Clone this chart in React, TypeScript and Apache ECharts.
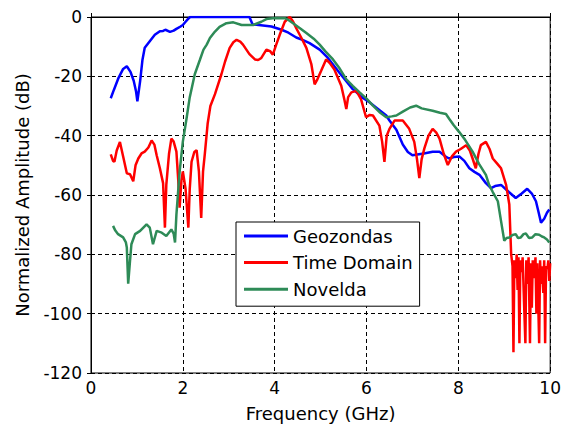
import React, { useEffect, useRef } from "react";
import * as echarts from "echarts";

const xTicks = [0, 2, 4, 6, 8, 10];
const yTicks = [-120, -100, -80, -60, -40, -20, 0];

const geoFreq = [0.43, 0.5, 0.6, 0.7, 0.78, 0.86, 0.93, 0.98, 1.01, 1.07, 1.12, 1.17, 1.28, 1.39, 1.5, 1.57, 1.62, 1.72, 1.8, 1.86, 1.95, 2.0, 2.06, 2.11, 2.16, 3.0, 3.45, 3.52, 3.7, 3.93, 4.15, 4.3, 4.47, 4.62, 4.76, 4.98, 5.16, 5.41, 5.7, 5.9, 6.07, 6.25, 6.43, 6.5, 6.65, 6.79, 6.9, 7.0, 7.25, 7.44, 7.59, 7.73, 7.8, 7.9, 8.02, 8.13, 8.24, 8.35, 8.46, 8.6, 8.71, 8.8, 8.93, 9.1, 9.25, 9.38, 9.5, 9.6, 9.69, 9.75, 9.8, 9.87, 9.93, 9.98];
const geoAmp = [-27.4, -24.5, -20.5, -17.5, -16.6, -18.5, -21.5, -25, -28.4, -21.6, -14.5, -10.4, -8.2, -6, -4.8, -4.7, -4.3, -5.0, -4.6, -4.0, -3.2, -2.7, -1.6, -0.7, 0, 0, 0, -2.5, -2.8, -3.2, -4.3, -5.3, -6.9, -7.8, -8.8, -11, -13.8, -18.8, -24.3, -27, -28.8, -31, -33.2, -34.9, -38, -43, -45.5, -46.6, -46, -45.4, -45.4, -47.1, -47.7, -47.2, -47, -48.5, -51, -52.2, -53.2, -56, -57.7, -57, -56.6, -59, -61, -59.5, -57.9, -59.5, -62.1, -66, -69.3, -68, -66, -64.9];

const tdFreq = [0.43, 0.48, 0.51, 0.56, 0.63, 0.7, 0.78, 0.85, 0.92, 0.97, 1.03, 1.1, 1.17, 1.25, 1.32, 1.38, 1.43, 1.5, 1.57, 1.61, 1.64, 1.7, 1.75, 1.8, 1.86, 1.9, 1.93, 1.97, 2.0, 2.06, 2.12, 2.15, 2.19, 2.25, 2.3, 2.35, 2.4, 2.44, 2.48, 2.54, 2.6, 2.7, 2.84, 2.92, 3.02, 3.1, 3.17, 3.25, 3.31, 3.45, 3.57, 3.64, 3.71, 3.82, 3.9, 3.96, 4.03, 4.11, 4.22, 4.33, 4.4, 4.47, 4.58, 4.69, 4.8, 4.87, 4.93, 5.01, 5.12, 5.2, 5.3, 5.45, 5.52, 5.56, 5.6, 5.67, 5.78, 5.88, 5.99, 6.07, 6.14, 6.28, 6.34, 6.39, 6.44, 6.5, 6.61, 6.79, 6.93, 7.04, 7.1, 7.15, 7.2, 7.26, 7.35, 7.44, 7.52, 7.59, 7.68, 7.77, 7.86, 7.95, 8.05, 8.17, 8.25, 8.31, 8.38, 8.44, 8.49, 8.6, 8.68, 8.75, 8.85, 8.93, 9.04, 9.11, 9.15, 9.18, 9.2, 9.22, 9.25, 9.27, 9.29, 9.31, 9.33, 9.35, 9.38, 9.4, 9.43, 9.46, 9.48, 9.5, 9.53, 9.56, 9.58, 9.6, 9.62, 9.65, 9.68, 9.7, 9.72, 9.76, 9.78, 9.8, 9.82, 9.85, 9.87, 9.89, 9.91, 9.94, 9.96, 9.98, 10.0];
const tdAmp = [-46.3, -48.5, -48.8, -45, -42.1, -47, -52.7, -53, -55.4, -50, -47.7, -46, -45.4, -44, -41.6, -43, -46.6, -51, -56, -71, -56.6, -46, -41, -42, -45.4, -55, -64.3, -55, -52.1, -58, -71, -58, -48.8, -45.5, -44.9, -52, -67.7, -52, -46, -36, -30, -26, -19.3, -15, -10.4, -8.5, -7.7, -8.3, -9.3, -12.5, -14.3, -14.5, -13.8, -11, -11.5, -12.7, -9.5, -6, -1.6, 0, -1.5, -3.8, -7, -10.4, -16, -22.7, -21, -18.2, -14.3, -15.5, -17.7, -23.2, -28, -31, -27, -25.4, -24.9, -27.7, -33.8, -33, -33.2, -36.6, -42, -48.8, -40, -37.7, -34.9, -34.9, -37.7, -42.1, -48, -54.3, -48, -44.3, -40, -37.7, -39, -41, -46, -49.9, -47, -45.4, -44.5, -43.2, -45, -47.7, -51, -46, -43.2, -42.1, -44.5, -47.7, -49.5, -51, -56.6, -63.2, -79.9, -84, -113, -82, -88, -80, -92, -81, -110, -82, -86, -81, -96, -110, -82, -90, -81, -110, -83, -98, -82, -88, -81, -100, -83, -110, -82, -90, -84, -93, -82, -110, -84, -85, -82, -89, -83];

const novFreq = [0.48, 0.53, 0.59, 0.7, 0.76, 0.78, 0.81, 0.85, 0.88, 0.96, 1.07, 1.14, 1.21, 1.28, 1.35, 1.43, 1.54, 1.64, 1.75, 1.8, 1.83, 1.86, 1.93, 2.0, 2.08, 2.15, 2.26, 2.37, 2.45, 2.52, 2.59, 2.7, 2.8, 2.95, 3.1, 3.28, 3.53, 3.71, 3.82, 4.0, 4.22, 4.3, 4.4, 4.55, 4.69, 4.85, 4.98, 5.1, 5.27, 5.4, 5.56, 5.7, 5.85, 6.0, 6.14, 6.3, 6.43, 6.55, 6.65, 6.8, 6.95, 7.08, 7.2, 7.44, 7.6, 7.73, 7.8, 7.9, 8.02, 8.15, 8.31, 8.45, 8.6, 8.67, 8.75, 8.86, 8.93, 9.0, 9.05, 9.11, 9.18, 9.25, 9.3, 9.36, 9.42, 9.47, 9.54, 9.61, 9.68, 9.76, 9.82, 9.87, 9.93, 9.98];
const novAmp = [-70.4, -72, -73.2, -74.3, -76, -77.7, -89.9, -82.1, -76.6, -73.2, -72.1, -71, -69.9, -71, -76.6, -72.1, -72.7, -73.8, -71.6, -73, -76, -66.6, -52.1, -42, -34.3, -27.1, -19.3, -14.5, -11, -9.3, -7.1, -4.9, -3.3, -2.1, -1.8, -2.7, -2.7, -1.6, -0.7, -0.3, -0.4, -1, -2.1, -3.8, -5.4, -7.3, -9.3, -11.5, -14.3, -17, -21, -23.2, -25.4, -27.5, -29.9, -32.3, -33.8, -33.5, -33.2, -31.8, -30.5, -29.9, -30.8, -31.6, -32.3, -32.7, -34.3, -36.5, -38.8, -41.5, -45.4, -49.5, -53.2, -56.6, -59, -62.1, -68.8, -75.4, -74.5, -74.3, -73.5, -73.2, -74.5, -74.3, -73.2, -73, -74.5, -74.3, -73.2, -73.4, -74, -74.3, -75, -76];

const seriesNames = ["Geozondas", "Time Domain", "Novelda"];
const seriesColors = ["#0000ff", "#ff0000", "#2e8b57"];

const zip = (f: number[], a: number[]) => f.map((x, i) => [x, a[i]]);

const FONT = "DejaVu Sans";

export default function App() {
  const ref = useRef<HTMLDivElement>(null);
  useEffect(() => {
    document.body.style.margin = "0";
    if (!ref.current) return;
    const chart = echarts.init(ref.current, undefined, { renderer: "svg" });
    const datasets = [zip(geoFreq, geoAmp), zip(tdFreq, tdAmp), zip(novFreq, novAmp)];
    const axisCommon = {
      axisLine: { show: true, lineStyle: { color: "#000", width: 1 } },
      axisTick: { show: true, inside: true, length: 4, lineStyle: { color: "#000" } },
    };
    chart.setOption({
      animation: false,
      backgroundColor: "#fff",
      grid: { left: 91, right: 13, top: 17, bottom: 50, containLabel: false, show: true, borderColor: "#000", borderWidth: 1 },
      legend: {
        orient: "vertical",
        left: 236,
        top: 222,
        data: seriesNames.map((n) => ({ name: n, icon: "rect" })),
        backgroundColor: "#fff",
        borderColor: "#000",
        borderWidth: 1,
        borderRadius: 0,
        padding: [5, 7, 8, 8],
        itemWidth: 44,
        itemHeight: 3,
        itemGap: 8.6,
        itemTextGap: 4,
        textStyle: { fontFamily: FONT, fontSize: 18, color: "#000", lineHeight: 18 },
      },
      xAxis: [
        {
          type: "value",
          min: 0,
          max: 10,
          interval: 2,
          name: "Frequency (GHz)",
          nameLocation: "middle",
          nameGap: 31,
          nameTextStyle: { fontFamily: FONT, fontSize: 18, color: "#000" },
          axisLabel: { fontFamily: FONT, fontSize: 17, color: "#000", margin: 6, formatter: (v: number) => (xTicks.includes(v) ? String(v) : "") },
          splitLine: { show: true, lineStyle: { color: "#000", type: [4, 3], width: 1 } },
          ...axisCommon,
        },
        {
          type: "value",
          position: "top",
          min: 0,
          max: 10,
          interval: 2,
          axisLabel: { show: false },
          splitLine: { show: false },
          ...axisCommon,
        },
      ],
      yAxis: [
        {
          type: "value",
          min: -120,
          max: 0,
          interval: 20,
          name: "Normalized Amplitude (dB)",
          nameLocation: "middle",
          nameGap: 60,
          nameTextStyle: { fontFamily: FONT, fontSize: 18, color: "#000" },
          axisLabel: { fontFamily: FONT, fontSize: 17, color: "#000", margin: 9, formatter: (v: number) => (yTicks.includes(v) ? String(v) : "") },
          splitLine: { show: true, lineStyle: { color: "#000", type: [4, 3], width: 1 } },
          ...axisCommon,
        },
        {
          type: "value",
          position: "right",
          min: -120,
          max: 0,
          interval: 20,
          axisLabel: { show: false },
          splitLine: { show: false },
          ...axisCommon,
        },
      ],
      series: seriesNames.map((name, i) => ({
        name,
        type: "line",
        data: datasets[i],
        symbol: "none",
        showSymbol: false,
        lineStyle: { color: seriesColors[i], width: 2.5 },
        itemStyle: { color: seriesColors[i] },
        xAxisIndex: 0,
        yAxisIndex: 0,
        z: 2 + i,
      })),
    });
    return () => chart.dispose();
  }, []);
  return <div ref={ref} style={{ width: 564, height: 427 }} />;
}
